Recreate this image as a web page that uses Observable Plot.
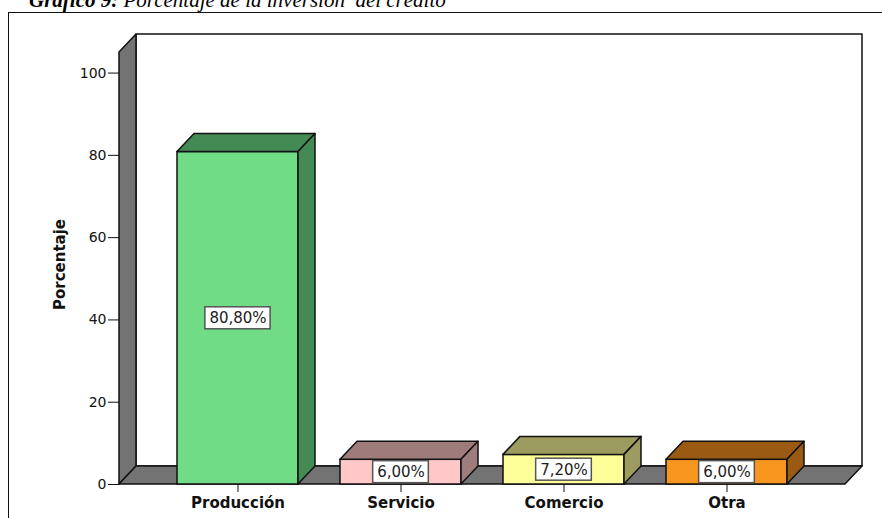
<!DOCTYPE html>
<html>
<head>
<meta charset="utf-8">
<script src="https://cdn.jsdelivr.net/npm/d3@7"></script>
<script src="https://cdn.jsdelivr.net/npm/@observablehq/plot@0.6"></script>
<style>
  html, body { margin: 0; padding: 0; background: #fff; }
  #wrap { position: relative; width: 882px; height: 518px; overflow: hidden; background: #fff; }
  #chart { position: absolute; left: 0; top: 0; }
  #title { position: absolute; left: 29px; top: -10px; font: italic 21px "Liberation Serif", serif; line-height: 21px; white-space: pre; color: #000; }
  #title b { font-weight: bold; }
  #frame { position: absolute; left: 8px; top: 12px; width: 1000px; height: 1000px; border: 1.5px solid #111; pointer-events: none; }
  [aria-label="x-axis tick label"] { font-weight: bold; }
</style>
</head>
<body>
<div id="wrap">
  <div id="chart"></div>
  <div id="frame"></div>
  <div id="title"><b>Gráfico 9:</b> Porcentaje de la inversión  del crédito</div>
</div>
<script>
// ---- data ----
const categories = ["Producción", "Servicio", "Comercio", "Otra"];
const percentages = [80.8, 6.0, 7.2, 6.0];
const valueLabels = ["80,80%", "6,00%", "7,20%", "6,00%"];
const yTicks = [0, 20, 40, 60, 80, 100];
const yMax = 105;
const yLabel = "Porcentaje";

// ---- styles ----
const frontColors = ["#70DC86", "#FFC8C8", "#FFFF99", "#F7961E"];
const darkColors = ["#438A55", "#9E7C7C", "#9C9C60", "#9A5A14"];
const DX = 17, DY = -18;
const EDGE = "#111";

const rows = categories.map((c, i) => ({category: c, value: percentages[i], label: valueLabels[i]}));

function walls(index, scales, values, dims) {
  const {y} = scales;
  const x0 = dims.marginLeft, x1 = dims.width - dims.marginRight;
  const yb = y(0), yt = y(yMax);
  const g = d3.create("svg:g").attr("stroke", EDGE).attr("stroke-width", 1.5).attr("stroke-linejoin", "round");
  g.append("rect").attr("x", x0 + DX).attr("y", yt + DY).attr("width", x1 - x0).attr("height", yb - yt).attr("fill", "#fff");
  g.append("path").attr("fill", "#737373")
    .attr("d", `M${x0},${yb}L${x0},${yt}L${x0 + DX},${yt + DY}L${x0 + DX},${yb + DY}Z`);
  g.append("path").attr("fill", "#737373")
    .attr("d", `M${x0},${yb}L${x1},${yb}L${x1 + DX},${yb + DY}L${x0 + DX},${yb + DY}Z`);
  return g.node();
}

function boxes3d(index, scales, values, dims) {
  const {x, y} = scales;
  const bw = x.bandwidth();
  const g = d3.create("svg:g").attr("stroke", EDGE).attr("stroke-width", 1.5).attr("stroke-linejoin", "round");
  rows.forEach((r, i) => {
    const xl = x(r.category), xr = xl + bw, yt = y(r.value), yb = y(0);
    g.append("path").attr("fill", darkColors[i])
      .attr("d", `M${xl},${yt}L${xl + DX},${yt + DY}L${xr + DX},${yt + DY}L${xr},${yt}Z`);
    g.append("path").attr("fill", darkColors[i])
      .attr("d", `M${xr},${yt}L${xr + DX},${yt + DY}L${xr + DX},${yb + DY}L${xr},${yb}Z`);
  });
  return g.node();
}

const ctx = document.createElement("canvas").getContext("2d");
ctx.font = '15px "DejaVu Sans"';
function labelBoxes(index, scales, values, dims) {
  const {x, y} = scales;
  const bw = x.bandwidth();
  const g = d3.create("svg:g");
  rows.forEach((r) => {
    const w = ctx.measureText(r.label).width + 8;
    const cx = x(r.category) + bw / 2, cy = y(r.value / 2);
    g.append("rect").attr("x", cx - w / 2).attr("y", cy - 11).attr("width", w).attr("height", 22)
      .attr("fill", "#fff").attr("stroke", "#555").attr("stroke-width", 1.5);
  });
  return g.node();
}

const chart = Plot.plot({
  width: 882,
  height: 518,
  marginTop: 52,
  marginBottom: 34,
  marginLeft: 119,
  marginRight: 37,
  style: {fontFamily: "DejaVu Sans", fontSize: "14px", color: "#111", background: "transparent"},
  x: {domain: categories, paddingInner: 0.255, paddingOuter: 0.345, label: null},
  y: {domain: [0, yMax], label: null},
  color: {domain: categories, range: frontColors},
  marks: [
    walls,
    Plot.barY(rows, {x: "category", y: "value", fill: "category", stroke: EDGE, strokeWidth: 1.5}),
    boxes3d,
    labelBoxes,
    Plot.text(rows, {x: "category", y: (d) => d.value / 2, text: "label", fontSize: 15, fill: "#222"}),
    Plot.axisY({ticks: yTicks, tickSize: 11, tickPadding: 2, fontSize: 14, label: null, stroke: EDGE}),
    Plot.axisX({tickSize: 8, tickPadding: 5, fontSize: 15, label: null}),
    Plot.text([yLabel], {frameAnchor: "left", textAnchor: "middle", rotate: -90, dx: -59, dy: -4, fontSize: 15, fontWeight: "bold", fill: "#111"})
  ]
});
document.getElementById("chart").appendChild(chart);
</script>
</body>
</html>
